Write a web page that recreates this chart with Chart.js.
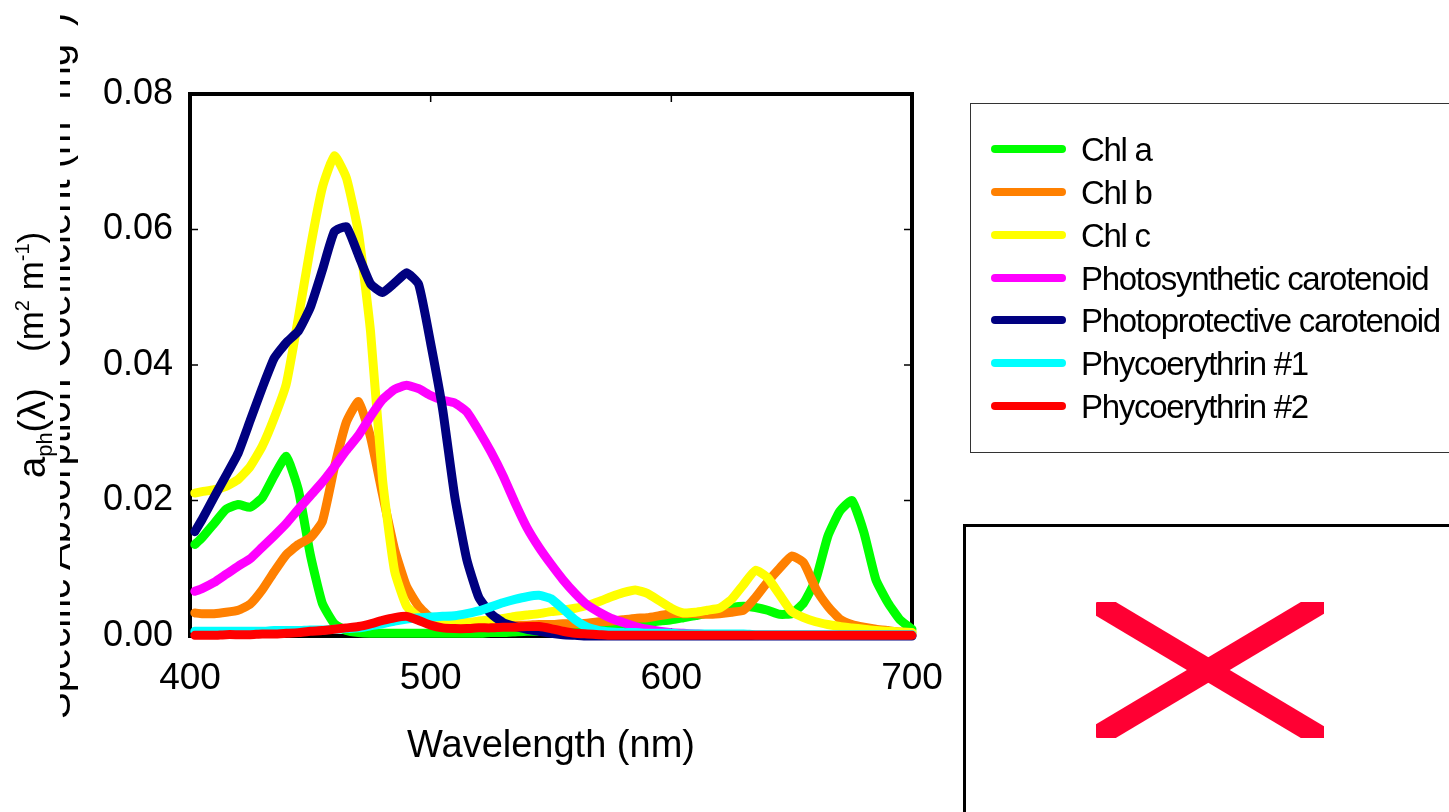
<!DOCTYPE html>
<html>
<head>
<meta charset="utf-8">
<title>Specific absorption coefficients</title>
<script src="https://cdn.jsdelivr.net/npm/chart.js@4.4.0/dist/chart.umd.min.js"></script>
<style>
  body {
    margin: 0;
    width: 1449px;
    height: 812px;
    overflow: hidden;
    background: #fff;
    font-family: "Liberation Sans", Arial, sans-serif;
    position: relative;
  }
  #wrap {
    position: absolute;
    left: 0;
    top: 0;
    width: 1449px;
    height: 812px;
  }
  .rot {
    position: absolute;
    transform-origin: 0 0;
    transform: rotate(-90deg);
    white-space: nowrap;
    line-height: 1;
    color: #000;
  }
  .rot sup {
    font-size: 20px;
    line-height: 0;
    vertical-align: 14px;
  }
  .rot sub {
    font-size: 22px;
    line-height: 0;
    vertical-align: -7px;
  }
  #yclip {
    position: absolute;
    left: 60px;
    top: 0;
    width: 40px;
    height: 812px;
    overflow: hidden;
  }
  #legend-box {
    position: absolute;
    left: 970px;
    top: 103px;
    width: 600px;
    height: 348px;
    border: 1px solid #333;
  }
  .swatch {
    position: absolute;
    left: 991px;
    width: 75px;
    height: 8px;
    border-radius: 4px;
  }
  .leg-text {
    position: absolute;
    left: 1081px;
    font-size: 33px;
    line-height: 1;
    letter-spacing: -1.3px;
    white-space: nowrap;
    color: #000;
  }
  #picbox {
    position: absolute;
    left: 963px;
    top: 524px;
    width: 600px;
    height: 400px;
    border: 3px solid #000;
  }
  #cross {
    position: absolute;
    left: 1096px;
    top: 602px;
  }
</style>
</head>
<body>
<div id="wrap"><canvas id="chart"></canvas></div>

<!-- y axis titles (two overlapping text boxes) -->
<div id="yclip">
  <div class="rot" style="left:-24px;top:719px;font-size:40px">Specific Absorption Coefficient (m<sup>2</sup> mg<sup>-1</sup>)</div>
</div>
<div class="rot" style="left:13px;top:478px;font-size:38px">a<sub>ph</sub>(λ)</div>
<div class="rot" style="left:13px;top:352px;font-size:35px">(m<sup>2</sup> m<sup>-1</sup>)</div>

<div id="legend-box"></div>
<div id="picbox"></div>
<svg id="cross" width="228" height="136">
  <line x1="0" y1="1" x2="228" y2="137" stroke="#ff0033" stroke-width="22" />
  <line x1="0" y1="135" x2="228" y2="-1" stroke="#ff0033" stroke-width="22" />
</svg>

<script>
// Data
const wavelengths = [402, 405, 410, 415, 420, 425, 430, 435, 440, 445,
  450, 455, 460, 465, 470, 475, 480, 485, 490, 495,
  500, 505, 510, 515, 520, 525, 530, 535, 540, 545,
  550, 555, 560, 565, 570, 575, 580, 585, 590, 595,
  600, 605, 610, 615, 620, 625, 630, 635, 640, 645,
  650, 655, 660, 665, 670, 675, 680, 685, 690, 695,
  700];

const chlA = [0.0135, 0.0145, 0.0166, 0.0187, 0.0194, 0.0190, 0.0204, 0.0237, 0.0265, 0.0216,
  0.0120, 0.0048, 0.0018, 0.0008, 0.0005, 0.0004, 0.0004, 0.0004, 0.0004, 0.0004,
  0.0004, 0.0004, 0.0004, 0.0004, 0.0004, 0.0005, 0.0005, 0.0006, 0.0007, 0.0007,
  0.0008, 0.0009, 0.0010, 0.0011, 0.0013, 0.0014, 0.0016, 0.0018, 0.0020, 0.0022,
  0.0024, 0.0027, 0.0030, 0.0034, 0.0038, 0.0042, 0.0044, 0.0042, 0.0038, 0.0032,
  0.0033, 0.0049, 0.0083, 0.0147, 0.0184, 0.0200, 0.0153, 0.0083, 0.0049, 0.0024,
  0.0010];

const chlB = [0.0034, 0.0033, 0.0033, 0.0035, 0.0038, 0.0047, 0.0068, 0.0095, 0.0120, 0.0135,
  0.0145, 0.0169, 0.0249, 0.0316, 0.0346, 0.0294, 0.0209, 0.0128, 0.0073, 0.0044,
  0.0027, 0.0023, 0.0020, 0.0019, 0.0018, 0.0017, 0.0017, 0.0016, 0.0016, 0.0017,
  0.0017, 0.0018, 0.0018, 0.0019, 0.0021, 0.0022, 0.0024, 0.0026, 0.0027, 0.0030,
  0.0033, 0.0033, 0.0033, 0.0032, 0.0033, 0.0035, 0.0038, 0.0057, 0.0080, 0.0100,
  0.0118, 0.0108, 0.0070, 0.0044, 0.0025, 0.0017, 0.0013, 0.0010, 0.0008, 0.0006,
  0.0005];

const chlC = [0.0211, 0.0213, 0.0216, 0.0221, 0.0231, 0.0250, 0.0280, 0.0322, 0.0372, 0.0469,
  0.0573, 0.0662, 0.0709, 0.0676, 0.0595, 0.0450, 0.0231, 0.0096, 0.0044, 0.0028,
  0.0021, 0.0019, 0.0019, 0.0020, 0.0022, 0.0024, 0.0026, 0.0029, 0.0031, 0.0033,
  0.0036, 0.0038, 0.0041, 0.0045, 0.0051, 0.0058, 0.0064, 0.0068, 0.0063, 0.0052,
  0.0041, 0.0034, 0.0035, 0.0038, 0.0041, 0.0054, 0.0076, 0.0097, 0.0086, 0.0061,
  0.0036, 0.0027, 0.0021, 0.0017, 0.0014, 0.0012, 0.0010, 0.0008, 0.0007, 0.0006,
  0.0005];

const carotPS = [0.0066, 0.0070, 0.0079, 0.0091, 0.0103, 0.0114, 0.0131, 0.0148, 0.0166, 0.0187,
  0.0207, 0.0227, 0.0250, 0.0274, 0.0296, 0.0324, 0.0349, 0.0364, 0.0370, 0.0365,
  0.0355, 0.0348, 0.0344, 0.0331, 0.0303, 0.0272, 0.0237, 0.0197, 0.0160, 0.0131,
  0.0106, 0.0083, 0.0063, 0.0046, 0.0035, 0.0026, 0.0020, 0.0014, 0.0010, 0.0007,
  0.0005, 0.0004, 0.0003, 0.0002, 0.0002, 0.0001, 0.0001, 0.0001, 0.0001, 0.0001,
  0.0001, 0.0001, 0.0001, 0.0001, 0.0001, 0.0001, 0.0001, 0.0001, 0.0001, 0.0001,
  0.0001];

const carotPP = [0.0154, 0.0172, 0.0205, 0.0237, 0.0270, 0.0318, 0.0366, 0.0410, 0.0433, 0.0450,
  0.0485, 0.0540, 0.0597, 0.0604, 0.0562, 0.0520, 0.0507, 0.0521, 0.0536, 0.0519,
  0.0432, 0.0334, 0.0206, 0.0113, 0.0057, 0.0033, 0.0020, 0.0014, 0.0010, 0.0007,
  0.0004, 0.0002, 0.0001, 0.0000, 0.0000, 0.0000, 0.0000, 0.0000, 0.0000, 0.0000,
  0.0000, 0.0000, 0.0000, 0.0000, 0.0000, 0.0000, 0.0000, 0.0000, 0.0000, 0.0000,
  0.0000, 0.0000, 0.0000, 0.0000, 0.0000, 0.0000, 0.0000, 0.0000, 0.0000, 0.0000,
  0.0000];

const pe1 = [0.0007, 0.0007, 0.0007, 0.0007, 0.0007, 0.0007, 0.0007, 0.0008, 0.0008, 0.0008,
  0.0009, 0.0009, 0.0010, 0.0011, 0.0012, 0.0015, 0.0018, 0.0022, 0.0025, 0.0027,
  0.0028, 0.0029, 0.0030, 0.0033, 0.0037, 0.0043, 0.0049, 0.0054, 0.0058, 0.0060,
  0.0055, 0.0040, 0.0024, 0.0013, 0.0008, 0.0006, 0.0005, 0.0005, 0.0004, 0.0004,
  0.0004, 0.0003, 0.0003, 0.0003, 0.0003, 0.0003, 0.0003, 0.0002, 0.0002, 0.0002,
  0.0002, 0.0002, 0.0002, 0.0002, 0.0002, 0.0002, 0.0002, 0.0002, 0.0002, 0.0002,
  0.0002];

const pe2 = [0.0001, 0.0001, 0.0001, 0.0002, 0.0002, 0.0002, 0.0003, 0.0003, 0.0004, 0.0005,
  0.0007, 0.0008, 0.0010, 0.0012, 0.0014, 0.0018, 0.0023, 0.0027, 0.0029, 0.0023,
  0.0016, 0.0012, 0.0011, 0.0011, 0.0012, 0.0012, 0.0013, 0.0013, 0.0014, 0.0014,
  0.0011, 0.0007, 0.0004, 0.0003, 0.0002, 0.0001, 0.0001, 0.0001, 0.0001, 0.0001,
  0.0001, 0.0001, 0.0001, 0.0001, 0.0001, 0.0001, 0.0001, 0.0001, 0.0001, 0.0001,
  0.0001, 0.0001, 0.0001, 0.0001, 0.0001, 0.0001, 0.0001, 0.0001, 0.0001, 0.0001,
  0.0001];

const seriesNames = ["Chl a", "Chl b", "Chl c", "Photosynthetic carotenoid",
  "Photoprotective carotenoid", "Phycoerythrin #1", "Phycoerythrin #2"];
const seriesValues = [chlA, chlB, chlC, carotPS, carotPP, pe1, pe2];
const seriesColors = ["#00ff00", "#ff8000", "#ffff00", "#ff00ff", "#000080", "#00ffff", "#ff0000"];

// tick labels
const xTicks = [400, 500, 600, 700];
const yTicks = [0, 0.02, 0.04, 0.06, 0.08];

const FONT = '"Liberation Sans", Arial, sans-serif';

// frame box with inward ticks, drawn under the lines
const framePlugin = {
  id: "frame",
  beforeDatasetsDraw(chart) {
    const { ctx, chartArea: a, scales } = chart;
    ctx.save();
    ctx.strokeStyle = "#000";
    ctx.lineWidth = 1.5;
    ctx.beginPath();
    xTicks.forEach((v) => {
      const px = scales.x.getPixelForValue(v);
      ctx.moveTo(px, a.bottom);
      ctx.lineTo(px, a.bottom - 8);
      ctx.moveTo(px, a.top);
      ctx.lineTo(px, a.top + 8);
    });
    yTicks.forEach((v) => {
      const py = scales.y.getPixelForValue(v);
      ctx.moveTo(a.left, py);
      ctx.lineTo(a.left + 8, py);
      ctx.moveTo(a.right, py);
      ctx.lineTo(a.right - 8, py);
    });
    ctx.stroke();
    ctx.lineWidth = 4;
    ctx.strokeRect(a.left, a.top, a.right - a.left, a.bottom - a.top);
    ctx.restore();
  },
};

function buildDatasets() {
  return seriesNames.map((name, i) => ({
    label: name,
    data: wavelengths.map((w, j) => ({ x: w, y: seriesValues[i][j] })),
    borderColor: seriesColors[i],
    backgroundColor: seriesColors[i],
    borderWidth: 9,
    borderCapStyle: "round",
    borderJoinStyle: "round",
    pointRadius: 0,
    tension: 0.15,
    clip: false,
    // later series drawn on top
    order: seriesNames.length - i,
  }));
}

const chart = new Chart(document.getElementById("chart"), {
  type: "line",
  data: { datasets: buildDatasets() },
  options: {
    responsive: true,
    maintainAspectRatio: false,
    animation: false,
    layout: { padding: { left: 0, top: 94, right: 537, bottom: 0 } },
    plugins: { legend: { display: false }, tooltip: { enabled: false } },
    scales: {
      x: {
        type: "linear",
        min: 400,
        max: 700,
        afterBuildTicks: (s) => {
          s.ticks = xTicks.map((v) => ({ value: v }));
        },
        afterFit: (s) => {
          s.height = 176;
        },
        grid: { display: false, drawTicks: false },
        border: { display: false },
        ticks: {
          color: "#000",
          padding: 21,
          maxRotation: 0,
          autoSkip: false,
          font: { family: FONT, size: 37 },
        },
        title: {
          display: true,
          text: "Wavelength (nm)",
          color: "#000",
          font: { family: FONT, size: 38 },
          padding: { top: 0, bottom: 43 },
        },
      },
      y: {
        min: 0,
        max: 0.08,
        afterBuildTicks: (s) => {
          s.ticks = yTicks.map((v) => ({ value: v }));
        },
        afterFit: (s) => {
          s.width = 190;
        },
        grid: { display: false, drawTicks: false },
        border: { display: false },
        ticks: {
          color: "#000",
          padding: 17,
          font: { family: FONT, size: 36 },
          callback: (v) => v.toFixed(2),
        },
      },
    },
  },
  plugins: [framePlugin],
});

// html legend from the chart datasets
const rowTop = 149.3;
const rowGap = 42.78;
chart.data.datasets.forEach((ds, i) => {
  const cy = rowTop + i * rowGap;
  const sw = document.createElement("div");
  sw.className = "swatch";
  sw.style.top = cy - 4 + "px";
  sw.style.background = ds.borderColor;
  document.body.appendChild(sw);

  const tx = document.createElement("div");
  tx.className = "leg-text";
  tx.style.top = cy - 16 + "px";
  tx.textContent = ds.label;
  document.body.appendChild(tx);
});
</script>
</body>
</html>
